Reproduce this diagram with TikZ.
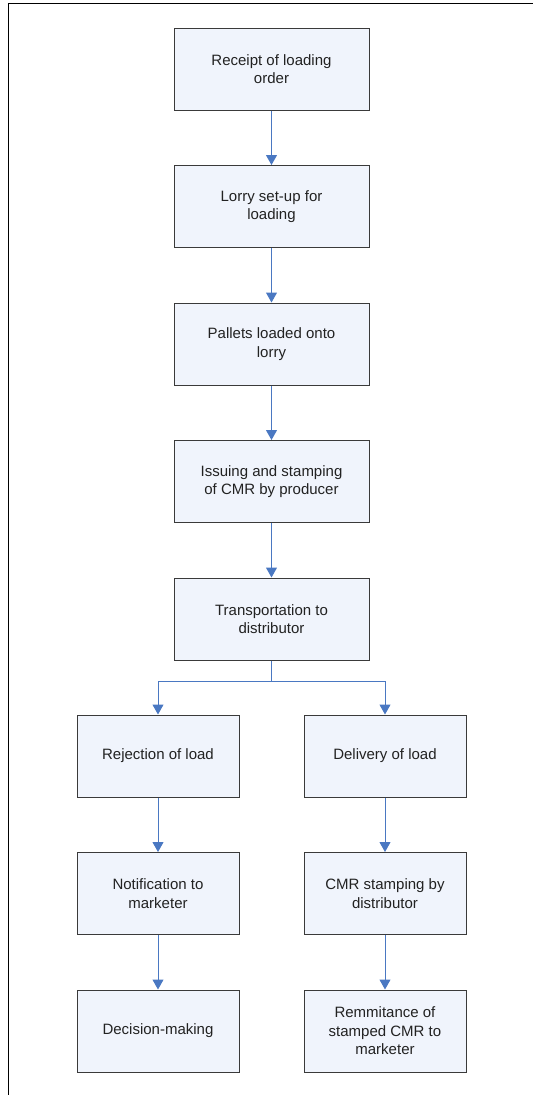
\documentclass[tikz,border=0pt]{standalone}
\usepackage{fontspec}
\setmainfont{Liberation Sans}
\usetikzlibrary{arrows.meta}
\definecolor{boxfill}{HTML}{F0F4FC}
\definecolor{boxline}{HTML}{3A3A3A}
\definecolor{flow}{HTML}{4A78C2}
\definecolor{labeltext}{HTML}{222222}

\begin{document}
\begin{tikzpicture}[x=1pt,y=-1pt,
  stepbox/.style={draw=boxline, line width=1pt, fill=boxfill,
    minimum height=82pt, inner sep=0pt, align=center,
    font=\fontsize{15}{18.5}\selectfont, text=labeltext},
  widebox/.style={stepbox, minimum width=195pt},
  narrowbox/.style={stepbox, minimum width=162pt},
  flowline/.style={draw=flow, line width=1pt,
    -{Triangle[length=10pt,width=11pt]}}]
\useasboundingbox (0,0) rectangle (533,1095);

% frame
\draw[line width=1.5pt] (8.5,1095) -- (8.5,3.5) -- (533,3.5);

% main column
\node[widebox] (order)     at (271.5,69)    {Receipt of loading\\order};
\node[widebox] (setup)     at (271.5,206.5) {Lorry set-up for\\loading};
\node[widebox] (pallets)   at (271.5,344)   {Pallets loaded onto\\lorry};
\node[widebox] (cmr)       at (271.5,481.5) {Issuing and stamping\\of CMR by producer};
\node[widebox] (transport) at (271.5,619)   {Transportation to\\distributor};

% rejection branch
\node[narrowbox] (reject)   at (158,756)    {Rejection of load};
\node[narrowbox] (notify)   at (158,893.5)  {Notification to\\marketer};
\node[narrowbox] (decide)   at (158,1031)   {Decision-making};

% delivery branch
\node[narrowbox] (deliver)  at (385,756)    {Delivery of load};
\node[narrowbox] (stamp)    at (385,893.5)  {CMR stamping by\\distributor};
\node[narrowbox] (remit)    at (385,1031)   {Remmitance of\\stamped CMR to\\marketer};

\draw[flowline] (order) -- (setup);
\draw[flowline] (setup) -- (pallets);
\draw[flowline] (pallets) -- (cmr);
\draw[flowline] (cmr) -- (transport);

\coordinate (split) at (271.5,681);
\draw[flowline] (transport.south) -- (split) -| (reject.north);
\draw[flowline] (split) -| (deliver.north);

\draw[flowline] (reject) -- (notify);
\draw[flowline] (notify) -- (decide);
\draw[flowline] (deliver) -- (stamp);
\draw[flowline] (stamp) -- (remit);
\end{tikzpicture}
\end{document}
